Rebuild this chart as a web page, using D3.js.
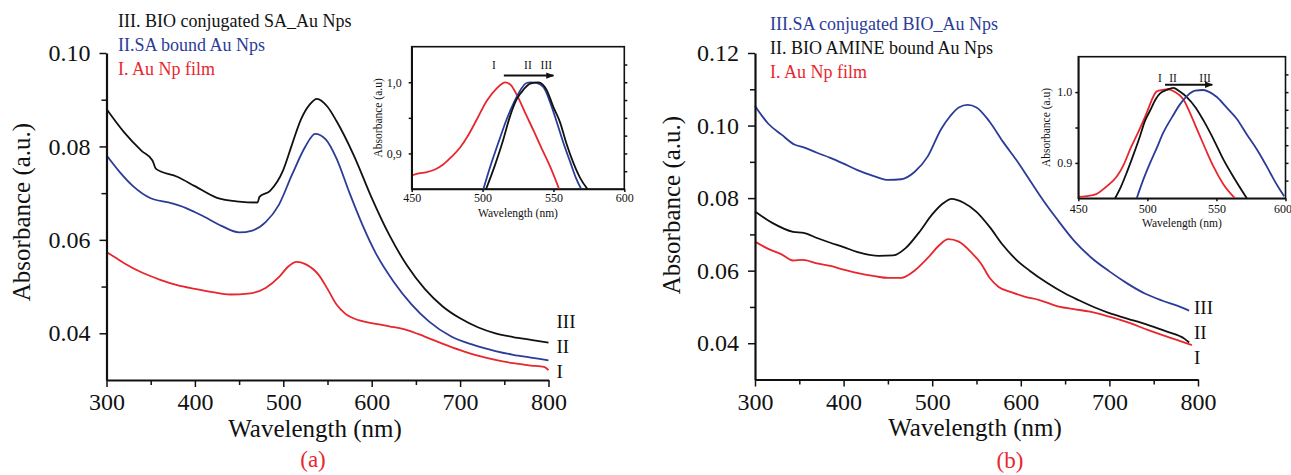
<!DOCTYPE html>
<html>
<head>
<meta charset="utf-8">
<script src="https://cdn.jsdelivr.net/npm/d3@7"></script>
<style>
  body { margin: 0; background: #fff; }
  svg { font-family: "Liberation Serif", "DejaVu Serif", serif; }
</style>
</head>
<body>
<div id="chart"></div>
<script>
// ---- panel (a) data ----
var aWaveI = [300,310,320,340,360,380,400,420,440,460,480,495,505,515,525,540,550,560,570,585,600,620,640,660,680,700,720,740,760,780,795,800];
var aAbsI  = [0.0574,0.0562,0.0550,0.0530,0.0515,0.0503,0.0495,0.0488,0.0483,0.0485,0.0497,0.0520,0.0542,0.0553,0.0548,0.0525,0.0495,0.0462,0.0442,0.0428,0.0422,0.0415,0.0407,0.0393,0.0378,0.0364,0.0352,0.0343,0.0336,0.0331,0.0328,0.0321];
var aWaveII = [300,315,330,350,370,390,410,430,450,465,480,495,510,525,536,548,560,575,590,605,625,645,665,690,715,740,760,780,800];
var aAbsII  = [0.0781,0.0745,0.0715,0.0689,0.0680,0.0668,0.0650,0.0630,0.0616,0.0620,0.0638,0.0675,0.0740,0.0800,0.0827,0.0815,0.0775,0.0700,0.0630,0.0570,0.0510,0.0462,0.0425,0.0393,0.0375,0.0362,0.0354,0.0348,0.0342];
var aWaveIII = [300,320,340,352,356,380,400,425,450,471,473,485,500,510,520,530,538,550,560,580,600,620,640,660,680,700,720,740,760,780,800];
var aAbsIII  = [0.0880,0.0830,0.0790,0.0770,0.0752,0.0735,0.0715,0.0690,0.0682,0.0680,0.0692,0.0705,0.0750,0.0805,0.0858,0.0890,0.0902,0.0885,0.0855,0.0780,0.0690,0.0610,0.0545,0.0495,0.0458,0.0432,0.0413,0.0400,0.0392,0.0386,0.0380];

// ---- panel (b) data ----
var bWaveI = [300,315,330,343,354,370,385,400,415,435,450,465,480,495,508,518,530,545,555,565,575,590,605,621,643,660,678,700,720,744,765,780,793];
var bAbsI  = [0.0680,0.0660,0.0645,0.0628,0.0630,0.0620,0.0613,0.0603,0.0594,0.0585,0.0580,0.0580,0.0600,0.0635,0.0670,0.0687,0.0680,0.0648,0.0620,0.0580,0.0555,0.0540,0.0528,0.0519,0.0501,0.0494,0.0487,0.0473,0.0458,0.0436,0.0418,0.0406,0.0395];
var bWaveII = [300,320,343,355,370,385,400,415,440,456,470,485,500,512,522,535,550,565,580,595,610,630,650,665,685,700,720,744,765,785,790];
var bAbsII  = [0.0763,0.0731,0.0707,0.0704,0.0690,0.0677,0.0665,0.0652,0.0641,0.0642,0.0662,0.0705,0.0755,0.0785,0.0798,0.0788,0.0762,0.0720,0.0670,0.0630,0.0600,0.0566,0.0537,0.0519,0.0497,0.0483,0.0468,0.0450,0.0432,0.0412,0.0402];
var bWaveIII = [300,315,330,345,355,370,385,400,415,435,450,465,480,495,510,520,530,540,550,565,580,595,610,625,640,660,680,700,720,740,760,780,790];
var bAbsIII  = [0.1054,0.1005,0.0975,0.0947,0.0940,0.0925,0.0911,0.0895,0.0878,0.0860,0.0850,0.0852,0.0872,0.0915,0.0990,0.1025,0.1050,0.1057,0.1050,0.1010,0.0955,0.0905,0.0850,0.0795,0.0745,0.0683,0.0635,0.0598,0.0565,0.0537,0.0517,0.0500,0.0490];

// ---- inset (a) normalized data ----
var iaWaveI = [450,455,460,466,472,478,484,490,496,503,510,516,520,524,531,536,541,548,554];
var iaAbsI  = [0.869,0.872,0.8735,0.877,0.884,0.895,0.908,0.926,0.948,0.974,0.9915,1.0,0.996,0.983,0.953,0.932,0.91,0.88,0.85];
var iaWaveII = [500.6,506,512,517,522,527,531,534,538,543,548,552.5,557,562,566,569.6];
var iaAbsII  = [0.85,0.885,0.92,0.948,0.971,0.99,0.999,1.0,0.999,0.993,0.97,0.943,0.915,0.887,0.865,0.85];
var iaWaveIII = [502.5,509,514.7,519,524,529,533.6,539.5,545,550,554.8,559,564,569,574];
var iaAbsIII  = [0.85,0.885,0.92,0.95,0.976,0.99,0.998,1.0,0.99,0.965,0.943,0.915,0.887,0.865,0.85];

// ---- inset (b) normalized data ----
var ibWaveI = [450,456,463,470,478,483,487.5,494,499.6,503,506.8,511,515.2,520,526,531,535.8,542,547.8,555,563.5];
var ibAbsI  = [0.852,0.853,0.856,0.866,0.881,0.898,0.919,0.946,0.971,0.988,1.001,1.003,1.004,1.0,0.99,0.97,0.948,0.92,0.895,0.87,0.85];
var ibWaveII = [476.6,481,485,490,494.7,498,502,506,509,514,518.8,524,528.5,535,540.6,548,555,563,572];
var ibAbsII  = [0.85,0.867,0.886,0.912,0.938,0.958,0.974,0.99,0.998,1.003,1.006,1.0,0.993,0.978,0.96,0.933,0.905,0.878,0.85];
var ibWaveIII = [492.3,497,502,507,511.6,518,523.7,529,534.6,540.6,545,550.3,557,564.8,572,579.3,587,592,596,599];
var ibAbsIII  = [0.85,0.876,0.90,0.922,0.943,0.965,0.983,0.995,1.002,1.003,1.0,0.993,0.979,0.962,0.94,0.919,0.893,0.875,0.862,0.853];

// ---- ticks and labels ----
var xMajor = [300,400,500,600,700,800];
var xMinor = [350,450,550,650,750];
var aYMajor = [0.04,0.06,0.08,0.10];
var aYMinor = [0.05,0.07,0.09];
var bYMajor = [0.04,0.06,0.08,0.10,0.12];
var bYMinor = [0.05,0.07,0.09,0.11];
var insetXTicks = [450,500,550,600];
var insetYTicks = [0.9,1.0];
var insetYMinor = [0.95];
var insetYRight = [0.875,0.9,0.925,0.95,0.975,1.0,1.025];
var romans = ["I","II","III"];
var aLegend = ["III. BIO conjugated SA_Au Nps","II.SA bound Au Nps","I. Au Np film"];
var bLegend = ["III.SA conjugated BIO_Au Nps","II. BIO AMINE bound Au Nps","I. Au Np film"];

var RED = "#e8262e", BLUE = "#2b3c98", BLACK = "#111";
var SERIF = "Liberation Serif, DejaVu Serif, serif";

function zip(w, a) { return w.map(function(d, i) { return [d, a[i]]; }); }

var svg = d3.select("#chart").append("svg")
  .attr("width", 1291)
  .attr("height", 475);

var defs = svg.append("defs");
defs.append("marker")
  .attr("id", "arrow")
  .attr("viewBox", "0 0 10 10")
  .attr("refX", 9).attr("refY", 5)
  .attr("markerWidth", 4).attr("markerHeight", 4)
  .attr("orient", "auto")
  .append("path").attr("d", "M0,1 L10,5 L0,9 Z").attr("fill", BLACK);

function styleAxis(g, w) {
  g.attr("font-family", SERIF);
  g.select(".domain").attr("stroke", BLACK).attr("stroke-width", w);
  g.selectAll(".tick line").attr("stroke", BLACK).attr("stroke-width", 1.5);
  g.selectAll("text").attr("fill", BLACK);
}

function drawPanel(p) {
  var x = d3.scaleLinear().domain([300, 800]).range(p.xRange);
  var y = d3.scaleLinear().domain(p.yDomain).range(p.yRange);
  var g = svg.append("g");

  // curves
  var line = d3.line().x(function(d) { return x(d[0]); }).y(function(d) { return y(d[1]); })
    .curve(d3.curveMonotoneX);
  p.series.forEach(function(s) {
    g.append("path").datum(zip(s.w, s.a))
      .attr("d", line).attr("fill", "none")
      .attr("stroke", s.color).attr("stroke-width", 1.8);
  });

  // axes
  var xAx = g.append("g").attr("transform", "translate(0," + p.yRange[0] + ")")
    .call(d3.axisBottom(x).tickValues(xMajor).tickSize(7).tickSizeOuter(0).tickPadding(6));
  xAx.attr("font-size", 24);
  styleAxis(xAx, 2.2);
  var xMin = g.append("g").attr("transform", "translate(0," + p.yRange[0] + ")")
    .call(d3.axisBottom(x).tickValues(xMinor).tickSize(5).tickFormat(""));
  xMin.select(".domain").remove();
  styleAxis(xMin, 0);

  var yAx = g.append("g").attr("transform", "translate(" + p.xRange[0] + ",0)")
    .call(d3.axisLeft(y).tickValues(p.yMajor).tickSize(7).tickSizeOuter(0).tickPadding(9)
      .tickFormat(d3.format(".2f")));
  yAx.attr("font-size", 24);
  styleAxis(yAx, 2.2);
  var yMin = g.append("g").attr("transform", "translate(" + p.xRange[0] + ",0)")
    .call(d3.axisLeft(y).tickValues(p.yMinor).tickSize(5).tickFormat(""));
  yMin.select(".domain").remove();
  styleAxis(yMin, 0);

  // titles
  g.append("text").attr("x", p.xTitle[0]).attr("y", p.xTitle[1])
    .attr("text-anchor", "middle").attr("font-size", 25).attr("fill", BLACK)
    .text("Wavelength (nm)");
  g.append("text")
    .attr("transform", "translate(" + p.yTitle[0] + "," + p.yTitle[1] + ") rotate(-90)")
    .attr("text-anchor", "middle").attr("font-size", 25).attr("fill", BLACK)
    .text("Absorbance (a.u.)");
  g.append("text").attr("x", p.tag[0]).attr("y", p.tag[1])
    .attr("text-anchor", "middle").attr("font-size", 23).attr("fill", RED)
    .text(p.tagText);

  // legend
  p.legend.forEach(function(t, i) {
    g.append("text").attr("x", p.legendX).attr("y", p.legendY + i * 24)
      .attr("font-size", 18).attr("fill", p.legendColors[i]).text(t);
  });

  // curve end labels
  p.endLabels.forEach(function(v, i) {
    g.append("text").attr("x", x(800) + p.endDx).attr("y", y(v))
      .attr("dy", "0.35em").attr("font-size", 19).attr("fill", BLACK)
      .text(romans[i]);
  });
}

var commaFmt = d3.formatLocale({ decimal: ",", thousands: ".", grouping: [3], currency: ["", ""] }).format(".1f");

function drawInset(p) {
  var x = d3.scaleLinear().domain([450, 600]).range(p.xRange);
  var y = d3.scaleLinear().domain([0.85, 1.05]).range(p.yRange);
  var g = svg.append("g");

  g.append("rect")
    .attr("x", p.xRange[0]).attr("y", p.yRange[1])
    .attr("width", p.xRange[1] - p.xRange[0]).attr("height", p.yRange[0] - p.yRange[1])
    .attr("fill", "#fff").attr("stroke", BLACK).attr("stroke-width", 1.6);

  var clipId = "clip" + p.id;
  defs.append("clipPath").attr("id", clipId).append("rect")
    .attr("x", p.xRange[0]).attr("y", p.yRange[1])
    .attr("width", p.xRange[1] - p.xRange[0]).attr("height", p.yRange[0] - p.yRange[1]);

  var line = d3.line().x(function(d) { return x(d[0]); }).y(function(d) { return y(d[1]); })
    .curve(d3.curveMonotoneX);
  p.series.forEach(function(s) {
    g.append("path").datum(zip(s.w, s.a))
      .attr("clip-path", "url(#" + clipId + ")")
      .attr("d", line).attr("fill", "none")
      .attr("stroke", s.color).attr("stroke-width", 1.8);
  });

  var xAx = g.append("g").attr("transform", "translate(0," + p.yRange[0] + ")")
    .call(d3.axisBottom(x).tickValues(insetXTicks).tickSize(3).tickSizeOuter(0).tickPadding(p.xPad));
  xAx.attr("font-size", 12);
  styleAxis(xAx, 1.6);
  // last label sits at the page edge: keep it inside
  if (p.lastEnd) {
    xAx.selectAll(".tick text").filter(function(d) { return d === 600; })
      .attr("text-anchor", "end").attr("dx", 6);
  }
  var yAx = g.append("g").attr("transform", "translate(" + p.xRange[0] + ",0)")
    .call(d3.axisLeft(y).tickValues(insetYTicks).tickSize(3).tickSizeOuter(0).tickPadding(p.yPad)
      .tickFormat(p.comma ? commaFmt : d3.format(".1f")));
  yAx.attr("font-size", 12);
  styleAxis(yAx, 1.6);
  var yMin = g.append("g").attr("transform", "translate(" + p.xRange[0] + ",0)")
    .call(d3.axisLeft(y).tickValues(insetYMinor).tickSize(3).tickFormat(""));
  yMin.select(".domain").remove();
  styleAxis(yMin, 0);
  var yR = g.append("g").attr("transform", "translate(" + p.xRange[1] + ",0)")
    .call(d3.axisRight(y).tickValues(insetYRight).tickSize(3).tickFormat(""));
  yR.select(".domain").remove();
  styleAxis(yR, 0);

  g.append("text").attr("x", (p.xRange[0] + p.xRange[1]) / 2).attr("y", p.xTitleY)
    .attr("text-anchor", "middle").attr("font-size", 11.5).attr("fill", BLACK)
    .text("Wavelength (nm)");
  g.append("text")
    .attr("transform", "translate(" + p.yTitleX + "," + (p.yRange[0] + p.yRange[1]) / 2 + ") rotate(-90)")
    .attr("text-anchor", "middle").attr("font-size", 11.5).attr("fill", BLACK)
    .text("Absorbance (a.u)");

  // red-shift arrow
  g.append("line")
    .attr("x1", x(p.arrow[0])).attr("x2", x(p.arrow[1]))
    .attr("y1", y(p.arrowY)).attr("y2", y(p.arrowY))
    .attr("stroke", BLACK).attr("stroke-width", 2)
    .attr("marker-end", "url(#arrow)");
  p.romanX.forEach(function(v, i) {
    g.append("text").attr("x", x(v)).attr("y", p.romanY)
      .attr("text-anchor", "middle").attr("font-size", 11.5).attr("fill", BLACK)
      .text(romans[i]);
  });
}

drawPanel({
  xRange: [106.5, 548.5], yDomain: [0.03, 0.10], yRange: [380, 53],
  yMajor: aYMajor, yMinor: aYMinor,
  series: [
    { w: aWaveI, a: aAbsI, color: RED },
    { w: aWaveII, a: aAbsII, color: BLUE },
    { w: aWaveIII, a: aAbsIII, color: BLACK }
  ],
  xTitle: [315, 437], yTitle: [30, 212], tag: [313, 467], tagText: "(a)",
  legend: aLegend, legendX: 118, legendY: 27, legendColors: [BLACK, BLUE, RED],
  endLabels: [0.0318, 0.0372, 0.0425], endDx: 8
});

drawPanel({
  xRange: [755, 1198], yDomain: [0.03, 0.12], yRange: [379.5, 53],
  yMajor: bYMajor, yMinor: bYMinor,
  series: [
    { w: bWaveI, a: bAbsI, color: RED },
    { w: bWaveII, a: bAbsII, color: BLACK },
    { w: bWaveIII, a: bAbsIII, color: BLUE }
  ],
  xTitle: [975, 436], yTitle: [680, 205], tag: [1010, 468], tagText: "(b)",
  legend: bLegend, legendX: 770, legendY: 30, legendColors: [BLUE, BLACK, RED],
  endLabels: [0.0362, 0.0431, 0.0500], endDx: -4
});

drawInset({
  id: "a", xRange: [411.7, 624.3], yRange: [189, 46.7], comma: true,
  xPad: 1, yPad: 7, xTitleY: 217, yTitleX: 382,
  series: [
    { w: iaWaveI, a: iaAbsI, color: RED },
    { w: iaWaveII, a: iaAbsII, color: BLUE },
    { w: iaWaveIII, a: iaAbsIII, color: BLACK }
  ],
  arrow: [515, 550], arrowY: 1.0094, romanX: [508, 532, 545], romanY: 69
});

drawInset({
  id: "b", xRange: [1078.3, 1285.5], yRange: [198.3, 56.7], comma: false, lastEnd: true,
  xPad: 3, yPad: 3, xTitleY: 227, yTitleX: 1050,
  series: [
    { w: ibWaveI, a: ibAbsI, color: RED },
    { w: ibWaveII, a: ibAbsII, color: BLACK },
    { w: ibWaveIII, a: ibAbsIII, color: BLUE }
  ],
  arrow: [512.8, 547], arrowY: 1.0104, romanX: [509, 518.6, 541.8], romanY: 82
});
</script>
</body>
</html>
